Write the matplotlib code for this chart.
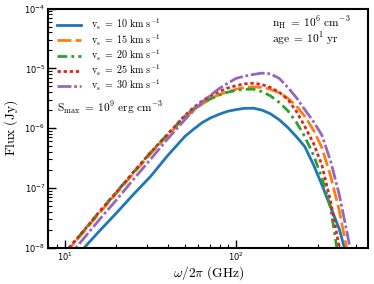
import numpy as np
import matplotlib
matplotlib.use('Agg')
import matplotlib.pyplot as plt

plt.rcParams['mathtext.fontset'] = 'cm'

# frequency grid (GHz) and fluxes (Jy)
freq = [10, 12.6, 15.8, 20, 25.1, 31.6, 39.8, 50.1, 56.2, 63.1, 70.8, 79.4,
        89.1, 100, 112, 126, 141, 158, 178, 200, 224, 251, 282, 316, 355,
        398, 447, 501]

flux_10 = [4.47e-9, 9.1e-9, 1.86e-8, 3.8e-8, 7.76e-8, 1.55e-7, 3.47e-7, 7.24e-7,
           9.5e-7, 1.23e-6, 1.48e-6, 1.70e-6, 1.91e-6, 2.04e-6, 2.14e-6, 2.15e-6,
           2.0e-6, 1.74e-6, 1.38e-6, 1.02e-6, 7.2e-7, 4.9e-7, 2.45e-7, 1.12e-7,
           4.8e-8, 2.09e-8, 6.3e-9, 1.26e-9]
flux_15 = [7.9e-9, 1.7e-8, 3.7e-8, 8.1e-8, 1.74e-7, 3.7e-7, 7.6e-7, 1.48e-6,
           1.95e-6, 2.51e-6, 3.09e-6, 3.63e-6, 4.07e-6, 4.47e-6, 4.79e-6, 4.9e-6,
           4.79e-6, 4.47e-6, 3.89e-6, 3.16e-6, 2.34e-6, 1.58e-6, 9.3e-7, 4.7e-7,
           1.58e-7, 4.3e-8, 7.9e-9, 1.26e-9]
flux_20 = [8.1e-9, 1.78e-8, 3.9e-8, 8.5e-8, 1.82e-7, 3.9e-7, 7.9e-7, 1.58e-6,
           2.09e-6, 2.63e-6, 3.09e-6, 3.55e-6, 3.98e-6, 4.27e-6, 4.47e-6, 4.47e-6,
           4.07e-6, 3.47e-6, 2.69e-6, 1.95e-6, 1.26e-6, 7.2e-7, 3.55e-7, 1.48e-7,
           4.7e-8, 5.6e-9, 1.0e-9, 1.6e-10]
flux_25 = [8.3e-9, 1.78e-8, 3.9e-8, 8.5e-8, 1.82e-7, 3.9e-7, 7.9e-7, 1.62e-6,
           2.19e-6, 2.82e-6, 3.47e-6, 4.07e-6, 4.68e-6, 5.13e-6, 5.5e-6, 5.62e-6,
           5.37e-6, 4.79e-6, 3.98e-6, 3.02e-6, 1.91e-6, 1.07e-6, 5.6e-7, 2.4e-7,
           6.0e-8, 1.05e-8, 1.26e-9, 1.6e-10]
flux_30 = [6.0e-9, 1.32e-8, 2.88e-8, 6.3e-8, 1.38e-7, 3.0e-7, 6.6e-7, 1.38e-6,
           1.95e-6, 2.69e-6, 3.55e-6, 4.57e-6, 5.62e-6, 6.8e-6, 7.4e-6, 7.9e-6,
           8.3e-6, 8.1e-6, 6.8e-6, 4.8e-6, 3.24e-6, 2.04e-6, 1.29e-6, 7.6e-7,
           2.82e-7, 7.9e-8, 1.58e-8, 2.5e-9]

speeds = [10, 15, 20, 25, 30]
fluxes = [flux_10, flux_15, flux_20, flux_25, flux_30]
colors = ['#1f77b4', '#ff7f0e', '#2ca02c', '#d62728', '#9467bd']
styles = ['-', (0, (5, 1.5)), (0, (3.5, 1.5, 1, 1.5)), (0, (1.2, 1.0)),
          (0, (5, 1, 1, 1))]

fig = plt.figure(figsize=(3.74, 2.84), dpi=100)
ax = fig.add_axes([0.129, 0.128, 0.856, 0.842])

for v, f, c, ls in zip(speeds, fluxes, colors, styles):
    ax.plot(freq, f, color=c, ls=ls, lw=2,
            label=r'$\mathrm{v_s\;=\;%d\ km\ s^{-1}}$' % v)

ax.set_xscale('log')
ax.set_yscale('log')
ax.set_xlim(8, 590)
ax.set_ylim(1e-8, 1e-4)

ax.set_xlabel(r'$\omega/2\pi\ \mathrm{(GHz)}$', fontsize=9.7, labelpad=1)
ax.set_ylabel(r'$\mathrm{Flux\ (Jy)}$', fontsize=9.7, labelpad=3)

ax.tick_params(which='both', direction='in', labelsize=6, pad=2)
ax.tick_params(which='major', length=6, width=1)
ax.tick_params(which='minor', length=3, width=0.8)
for s in ax.spines.values():
    s.set_linewidth(1.5)

ax.legend(loc='upper left', frameon=False, fontsize=7.2, handlelength=2.45,
          borderaxespad=0.55, labelspacing=0.0, handletextpad=0.95,
          borderpad=0.3)

ax.text(0.027, 0.584, r'$\mathrm{S_{max}\;=\;10^9\ erg\ cm^{-3}}$',
        transform=ax.transAxes, fontsize=8.2, va='center')
ax.text(0.70, 0.94, r'$\mathrm{n_H\;=\;10^6\ cm^{-3}}$',
        transform=ax.transAxes, fontsize=8.2, va='center')
ax.text(0.70, 0.873, r'$\mathrm{age\;=\;10^1\ yr}$',
        transform=ax.transAxes, fontsize=8.2, va='center')

fig.savefig('out.png', dpi=100)
